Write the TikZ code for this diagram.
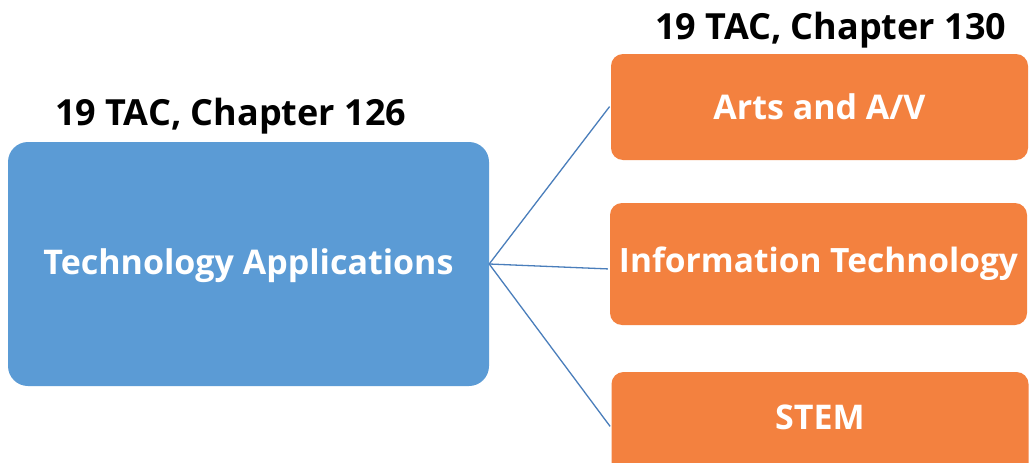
\documentclass[tikz,border=0pt]{standalone}
\usepackage{fontspec}
\setmainfont{Open Sans}
\definecolor{tablue}{HTML}{5B9BD5}
\definecolor{taorange}{HTML}{F3813F}
\definecolor{linkblue}{HTML}{4A7EBB}
\begin{document}
\begin{tikzpicture}[x=1pt,y=-1pt,
  bluebox/.style={fill=tablue,draw=none,rounded corners=20pt,text=white,font=\fontsize{34}{40}\selectfont\bfseries,inner sep=0pt,minimum width=481pt,minimum height=244pt},
  orangebox/.style={fill=taorange,draw=none,rounded corners=12pt,text=white,font=\fontsize{34}{40}\selectfont\bfseries,inner sep=0pt,minimum width=417pt},
  titletext/.style={font=\fontsize{36}{43}\selectfont\bfseries,text=black,inner sep=0pt,anchor=base west},
  link/.style={draw=linkblue,line width=1.3pt,shorten >=2pt}]
\useasboundingbox[fill=white] (0,0) rectangle (1029,463);
\node[bluebox,text height=26pt,text depth=6pt] (ta) at (248.5,264) {Technology Applications};
\node[orangebox,minimum height=106pt] (arts) at (819.5,107) {Arts and A/V};
\node[orangebox,minimum height=122pt,font=\fontsize{33.5}{40}\selectfont\bfseries] (it) at (818.5,264) {Information Technology};
\node[orangebox,minimum height=120pt,text height=24pt,text depth=30pt] (stem) at (820,432) {STEM};
\node[titletext] (t126) at (55,125) {19 TAC, Chapter 126};
\node[titletext] (t130) at (655,39) {19 TAC, Chapter 130};
\draw[link] (ta.east) -- ([yshift=2pt]arts.west);
\draw[link] (ta.east) -- ([yshift=-5pt]it.west);
\draw[link] (ta.east) -- ([yshift=4pt]stem.west);
\end{tikzpicture}
\end{document}
